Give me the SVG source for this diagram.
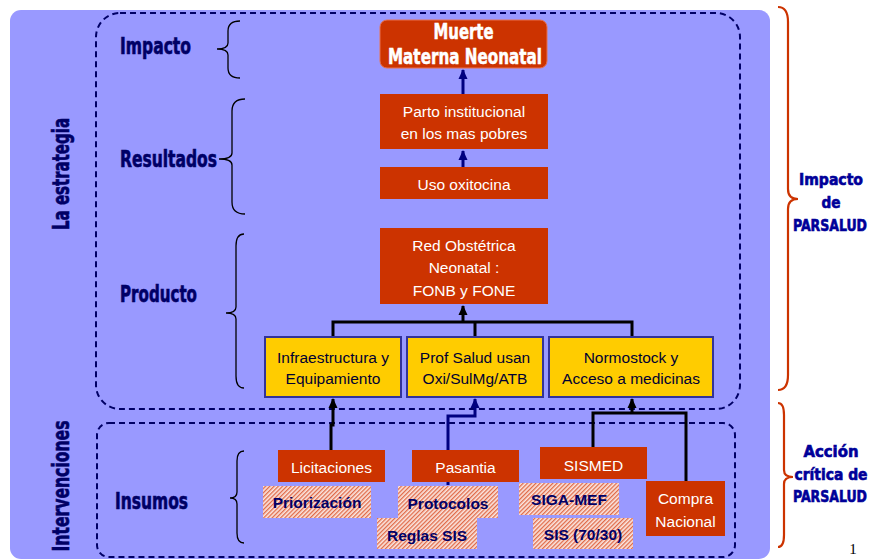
<svg xmlns="http://www.w3.org/2000/svg" width="873" height="560" viewBox="0 0 873 560">
<style>
.cond{font-family:"Liberation Sans Narrow","DejaVu Sans Condensed","Liberation Sans",sans-serif;font-weight:bold;}
.lbl{fill:#000066;stroke:#000066;stroke-width:0.6;font-size:23px;}
.rlbl{fill:#000099;stroke:#000099;stroke-width:0.6;font-size:16px;text-anchor:middle;}
.red{fill:#CC3300;}
.yel{fill:#FFCC00;stroke:#333399;stroke-width:2;}
.hatch{fill:url(#hatch);}
.wt{fill:#ffffff;font-family:"Liberation Sans",Arial,sans-serif;font-size:15.5px;text-anchor:middle;}
.yt{fill:#000033;font-family:"Liberation Sans",Arial,sans-serif;font-size:15.5px;text-anchor:middle;}
.ht{fill:#000066;font-family:"Liberation Sans",Arial,sans-serif;font-weight:bold;font-size:15.5px;text-anchor:middle;}
.dash{fill:none;stroke:#000066;stroke-width:2;stroke-dasharray:6 4;}
.brace{fill:none;stroke:#000000;stroke-width:1.3;}
.rbrace{fill:none;stroke:#CC3300;stroke-width:2.2;}
.blk{fill:none;stroke:#000000;stroke-width:3;}
.nav{fill:none;stroke:#000080;stroke-width:3;}
</style>
<defs>
<pattern id="hatch" width="3" height="3" patternUnits="userSpaceOnUse" patternTransform="rotate(45)">
<rect width="3" height="3" fill="#fbe6e0"/>
<rect width="1.3" height="3" fill="#e06a48"/>
</pattern>
<marker id="ab" markerUnits="userSpaceOnUse" markerWidth="10" markerHeight="10" viewBox="0 0 10 10" refX="9" refY="5" orient="auto">
<path d="M0,0.5 L10,5 L0,9.5 Z" fill="#000000"/>
</marker>
<marker id="an" markerUnits="userSpaceOnUse" markerWidth="10" markerHeight="10" viewBox="0 0 10 10" refX="9" refY="5" orient="auto">
<path d="M0,0.5 L10,5 L0,9.5 Z" fill="#000080"/>
</marker>
</defs>

<rect x="10" y="10" width="760" height="549" rx="11" fill="#9999FF"/>
<rect x="96" y="13" width="644" height="396" rx="24" class="dash"/>
<rect x="97" y="423" width="638" height="134" rx="12" class="dash"/>

<g id="side-labels">
<text class="cond lbl" transform="translate(69,174) rotate(-90)" text-anchor="middle" textLength="112" lengthAdjust="spacingAndGlyphs">La estrategia</text>
<text class="cond lbl" transform="translate(69,486) rotate(-90)" text-anchor="middle" textLength="131" lengthAdjust="spacingAndGlyphs">Intervenciones</text>
</g>

<g id="level-labels">
<text class="cond lbl" x="120" y="54" textLength="71" lengthAdjust="spacingAndGlyphs">Impacto</text>
<text class="cond lbl" x="120" y="167" textLength="97" lengthAdjust="spacingAndGlyphs">Resultados</text>
<text class="cond lbl" x="120" y="302" textLength="77" lengthAdjust="spacingAndGlyphs">Producto</text>
<text class="cond lbl" x="115" y="509" textLength="73" lengthAdjust="spacingAndGlyphs">Insumos</text>
<path class="brace" d="M240,21 Q228,21 228,31 L228,43 Q228,49 217,49 Q228,49 228,55 L228,68 Q228,78 240,78"/>
<path class="brace" d="M245,99 Q232,99 232,111 L232,153 Q232,159 219,159 Q232,159 232,165 L232,202 Q232,214 245,214"/>
<path class="brace" d="M244,234 Q236,234 236,246 L236,307 Q236,313 226,313 Q236,313 236,319 L236,376 Q236,388 244,388"/>
<path class="brace" d="M244,451 Q237,451 237,461 L237,492 Q237,498 230,498 Q237,498 237,504 L237,533 Q237,543 244,543"/>
</g>

<g id="right-labels">
<path class="rbrace" d="M778,7 Q788,7 788,22 L788,189 Q788,199 798,199 Q788,199 788,209 L788,375 Q788,390 778,390"/>
<path class="rbrace" d="M778,403 Q784,403 784,415 L784,470 Q784,477 793,477 Q784,477 784,484 L784,535 Q784,547 778,547"/>
<text class="cond rlbl" x="831" y="185" textLength="64" lengthAdjust="spacingAndGlyphs">Impacto</text>
<text class="cond rlbl" x="831" y="208" textLength="19" lengthAdjust="spacingAndGlyphs">de</text>
<text class="cond rlbl" x="830" y="231" font-size="15" textLength="74" lengthAdjust="spacingAndGlyphs">PARSALUD</text>
<text class="cond rlbl" x="831" y="457" textLength="55" lengthAdjust="spacingAndGlyphs">Acción</text>
<text class="cond rlbl" x="831" y="480" textLength="73" lengthAdjust="spacingAndGlyphs">crítica de</text>
<text class="cond rlbl" x="830" y="502" font-size="15" textLength="74" lengthAdjust="spacingAndGlyphs">PARSALUD</text>
<text x="853" y="554" font-family="Liberation Serif,serif" font-size="15" text-anchor="middle" fill="#000000">1</text>
</g>

<g id="connectors">
<path class="nav" d="M463,94 V70" marker-end="url(#an)"/>
<path class="nav" d="M463,167 V151" marker-end="url(#an)"/>
<path class="blk" d="M333,337 V322 H632 V337 M475,322 V337"/>
<path class="blk" d="M463,322 V306" marker-end="url(#ab)"/>
<path class="blk" d="M331,450 V425 H333 V399" marker-end="url(#ab)"/>
<path class="nav" d="M448,485 V416 H475 V399" marker-end="url(#an)"/>
<path class="blk" d="M593,447 V413 H686 V481"/>
<path class="blk" d="M632,413 V399" marker-end="url(#ab)"/>
</g>

<g id="muerte">
<rect x="380" y="20" width="167" height="48" rx="7" class="red" stroke="#e8704e" stroke-width="1"/>
<text class="cond" x="463.5" y="39" fill="#ffffff" stroke="#ffffff" stroke-width="0.5" font-size="21" text-anchor="middle" textLength="60" lengthAdjust="spacingAndGlyphs">Muerte</text>
<text class="cond" x="465" y="64" fill="#ffffff" stroke="#ffffff" stroke-width="0.5" font-size="21" text-anchor="middle" textLength="154" lengthAdjust="spacingAndGlyphs">Materna Neonatal</text>
</g>
<g id="parto">
<rect x="380" y="94" width="168" height="55" class="red"/>
<text class="wt" x="464" y="117">Parto institucional</text>
<text class="wt" x="464" y="139">en los mas pobres</text>
</g>
<g id="uso">
<rect x="380" y="167" width="168" height="32" class="red"/>
<text class="wt" x="464" y="190">Uso oxitocina</text>
</g>
<g id="red-obstetrica">
<rect x="380" y="228" width="168" height="76" class="red"/>
<text class="wt" x="464" y="251">Red Obstétrica</text>
<text class="wt" x="464" y="273">Neonatal :</text>
<text class="wt" x="464" y="296">FONB y FONE</text>
</g>

<g id="infraestructura">
<rect x="265" y="337" width="136" height="60" class="yel"/>
<text class="yt" x="333" y="363">Infraestructura y</text>
<text class="yt" x="333" y="384">Equipamiento</text>
</g>
<g id="prof-salud">
<rect x="407" y="337" width="136" height="60" class="yel"/>
<text class="yt" x="475" y="363">Prof Salud usan</text>
<text class="yt" x="475" y="384">Oxi/SulMg/ATB</text>
</g>
<g id="normostock">
<rect x="549" y="337" width="164" height="60" class="yel"/>
<text class="yt" x="631" y="363">Normostock y</text>
<text class="yt" x="631" y="384">Acceso a medicinas</text>
</g>

<g id="licitaciones">
<rect x="278" y="450" width="107" height="32" class="red"/>
<text class="wt" x="331.5" y="473">Licitaciones</text>
</g>
<g id="pasantia">
<rect x="412" y="450" width="107" height="32" class="red"/>
<text class="wt" x="465.5" y="473">Pasantia</text>
</g>
<g id="sismed">
<rect x="540" y="447" width="107" height="32" class="red"/>
<text class="wt" x="593.5" y="471">SISMED</text>
</g>
<g id="compra-nacional">
<rect x="646" y="481" width="79" height="55" class="red"/>
<text class="wt" x="685.5" y="504">Compra</text>
<text class="wt" x="685.5" y="527">Nacional</text>
</g>

<g id="priorizacion">
<rect x="263" y="486" width="108" height="32" class="hatch"/>
<text class="ht" x="317" y="508">Priorización</text>
</g>
<g id="protocolos">
<rect x="398" y="486" width="100" height="32" class="hatch"/>
<text class="ht" x="448" y="509">Protocolos</text>
</g>
<g id="reglas-sis">
<rect x="377" y="518" width="100" height="31" class="hatch"/>
<text class="ht" x="427" y="541">Reglas SIS</text>
</g>
<g id="siga-mef">
<rect x="519" y="483" width="100" height="32" class="hatch"/>
<text class="ht" x="569" y="505">SIGA-MEF</text>
</g>
<g id="sis-7030">
<rect x="533" y="518" width="100" height="31" class="hatch"/>
<text class="ht" x="583" y="540">SIS (70/30)</text>
</g>
</svg>
